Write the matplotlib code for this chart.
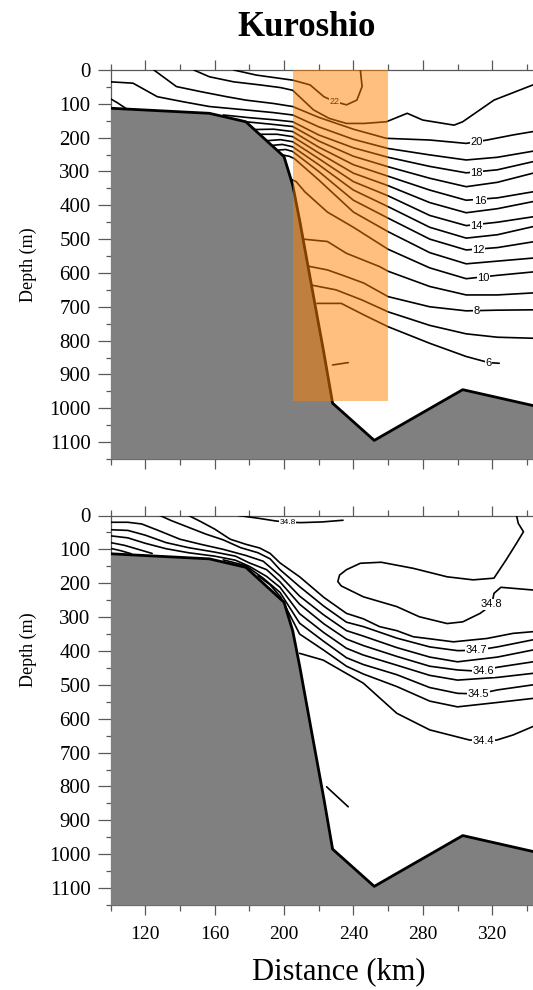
"""Kuroshio cross-slope section: temperature (top) and salinity (bottom) over the shelf break."""
import matplotlib

matplotlib.use("Agg")
import matplotlib.pyplot as plt
from matplotlib.patches import Rectangle
from matplotlib.ticker import FixedLocator, MultipleLocator

plt.rcParams["font.family"] = ["Liberation Serif", "DejaVu Serif"]

# --- seafloor (distance km, depth m) ---
bathy_km = [100, 157, 178, 200, 205, 209, 216, 223, 228, 252, 303, 343.5]
bathy_depth = [113, 128, 153, 256, 340, 444, 641, 837, 985, 1095, 945, 992]

# --- temperature isotherms, (km, depth m) ---
t22 = [(171, 0), (184, 15), (198, 25), (205, 30), (215, 44), (223, 79), (229, 93),
       (236, 103), (242, 89), (245, 49), (244, 0)]
t21 = [(148, 0), (157, 20), (171, 35), (186, 44), (198, 52), (205, 60), (217, 118),
       (226, 143), (236, 158), (246, 158), (259, 153), (271, 128), (280, 148),
       (298, 163), (303, 153), (321, 89), (343.5, 44)]
t20 = [(125, 0), (138, 49), (152, 64), (167, 79), (178, 89), (194, 99), (205, 108),
       (220, 140), (240, 175), (259, 202), (284, 207), (305, 217), (317, 207),
       (332, 192), (343.5, 182)]
t19 = [(100, 35), (113, 39), (127, 79), (142, 94), (157, 108), (178, 118), (194, 126),
       (205, 133), (220, 168), (240, 205), (260, 232), (284, 251), (305, 266),
       (323, 258), (343.5, 240)]
t18a = [(100, 85), (104, 97), (109, 114)]
t18 = [(165, 133), (180, 141), (194, 147), (205, 153), (220, 192), (240, 230),
       (260, 258), (284, 285), (305, 304), (323, 295), (343.5, 271)]
t17 = [(178, 153), (192, 160), (205, 167), (220, 210), (240, 255), (260, 286),
       (284, 320), (305, 345), (323, 332), (343.5, 305)]
t16 = [(183, 176), (194, 175), (205, 182), (220, 228), (240, 280), (260, 314),
       (284, 355), (305, 385), (323, 378), (343.5, 360)]
t15 = [(186, 190), (196, 190), (205, 197), (220, 245), (240, 305), (260, 342),
       (284, 392), (305, 422), (323, 410), (343.5, 389)]
t14 = [(190, 209), (198, 206), (205, 212), (220, 262), (240, 330), (260, 372),
       (284, 430), (305, 460), (323, 450), (343.5, 434)]
t13 = [(193, 223), (199, 220), (205, 227), (220, 280), (240, 355), (260, 404),
       (284, 465), (305, 497), (323, 487), (343.5, 463)]
t12 = [(196, 237), (201, 235), (205, 241), (220, 300), (240, 385), (260, 438),
       (284, 500), (305, 532), (323, 525), (343.5, 508)]
t11 = [(199, 251), (203, 255), (206, 262), (220, 325), (240, 420), (260, 478),
       (284, 540), (305, 573), (323, 565), (343.5, 556)]
t10 = [(204, 323), (207, 330), (212, 360), (225, 420), (240, 465), (260, 530),
       (284, 585), (305, 617), (323, 607), (343.5, 597)]
t9 = [(211, 500), (225, 507), (236, 542), (255, 581), (260, 595), (284, 640),
      (305, 665), (323, 665), (343.5, 659)]
t8 = [(214, 580), (225, 591), (236, 611), (246, 630), (260, 670), (284, 700),
      (305, 712), (323, 710), (343.5, 709)]
t7 = [(216, 636), (230, 650), (245, 680), (260, 715), (284, 755), (305, 780),
      (323, 790), (343.5, 793)]
t6 = [(219, 690), (233, 690), (246, 724), (260, 759), (284, 808), (305, 847),
      (318, 865), (324, 867)]
t5 = [(228, 872), (237, 865)]

temp_labels = ["22", "20", "18", "16", "14", "12", "10", "8", "6"]
temp_label_km = [229, 311, 311, 313, 311, 312, 315, 311, 318]
temp_label_depth = [92, 213, 305, 386, 461, 532, 616, 713, 866]

# --- salinity isohalines ---
s48_top = [(173.5, 0), (185, 8), (195, 16), (202, 20), (210, 21), (222, 19), (234, 14)]
s48 = [(334, 0), (335, 23), (338, 48), (334, 82), (328, 131), (321, 185), (309, 190),
       (294, 181), (274.5, 156), (256, 138), (244, 141), (236, 160), (232, 176),
       (231, 195), (233, 208), (245.7, 240), (265, 269), (278, 299), (294, 319),
       (303, 314), (313, 289), (319.7, 264), (321, 230), (325, 212), (332, 215),
       (343.5, 220)]
s475 = [(145, 0), (152, 18), (160, 40), (169, 70), (178, 85), (186, 96), (192, 112),
        (197.7, 140), (209, 181), (223, 242), (236, 289), (245.7, 305), (255, 328),
        (265, 340), (274.5, 358), (284, 364), (297.6, 373), (317, 363), (332, 348),
        (343.5, 343)]
s470 = [(128.5, 0), (135, 15), (145, 35), (155, 55), (165, 72), (175, 95), (185, 110),
        (192, 128), (197.7, 160), (209, 210), (223, 268), (236, 315), (245.7, 328),
        (265, 362), (284, 388), (300, 399), (311, 398), (323, 388), (343.5, 367)]
s465 = [(100, 20), (110, 20), (118, 25), (128, 45), (140, 70), (152, 85), (165, 100),
        (178, 118), (188, 135), (197.7, 178), (209, 238), (223, 294), (236, 340),
        (245.7, 356), (265, 390), (284, 418), (300, 432), (323, 418), (343.5, 397)]
s460 = [(100, 42), (110, 44), (120, 58), (132, 80), (145, 95), (160, 108), (172, 120),
        (180, 140), (190, 160), (197.7, 196), (209, 262), (223, 320), (236, 365),
        (245.7, 384), (265, 416), (284, 445), (300, 456), (313, 460), (323, 448),
        (343.5, 432)]
s455 = [(100, 60), (110, 66), (120, 82), (132, 98), (145, 110), (160, 120), (172, 132),
        (180, 150), (190, 180), (197.7, 212), (209, 290), (223, 346), (236, 392),
        (245.7, 412), (265, 442), (284, 472), (300, 486), (323, 478), (343.5, 466)]
s450a = [(100, 80), (108, 88), (116, 100), (124, 112)]
s450 = [(165, 131), (178, 148), (188, 185), (197.7, 227), (209, 318), (223, 372),
        (236, 420), (245.7, 440), (265, 470), (284, 508), (300, 525), (312, 527),
        (323, 515), (343.5, 500)]
s445a = [(100, 97), (106, 104), (112, 113)]
s445 = [(185, 178), (192, 205), (198, 240), (209, 350), (223, 398), (236, 445),
        (245.7, 468), (265, 505), (284, 548), (300, 565), (323, 552), (343.5, 540)]
s440 = [(209, 407), (222.6, 427), (245.7, 495), (265, 584), (284, 633), (307, 663),
        (322.6, 663), (332, 648), (343.5, 623)]
s435 = [(224.6, 801), (226, 808), (237, 860)]

sal_labels = ["34.8", "34.8", "34.7", "34.6", "34.5", "34.4"]
sal_label_km = [202, 319.7, 311, 314.9, 312, 314.9]
sal_label_depth = [20, 262, 398, 459, 526, 666]

box_km = (205, 260)
box_depth = 980

temp_lines = [t22, t21, t20, t19, t18a, t18, t17, t16, t15, t14, t13, t12, t11,
              t10, t9, t8, t7, t6, t5]
sal_lines = [s48_top, s48, s475, s470, s465, s460, s455, s450a, s450, s445a, s445,
             s440, s435]

W, H = 533, 990
fig = plt.figure(figsize=(W / 100, H / 100), dpi=100)
fig.patch.set_facecolor("white")

left = 110.5 / W
ax1 = fig.add_axes([left, 1 - 459 / H, 1 - left, 389 / H])
ax2 = fig.add_axes([left, 1 - 905 / H, 1 - left, 389.5 / H])


def draw_section(ax, lines, labels, lab_km, lab_depth, lab_sizes):
    for line in lines:
        ax.plot([p[0] for p in line], [p[1] for p in line], color="black",
                lw=1.2, zorder=3, solid_capstyle="round")
    ax.fill_between(bathy_km, bathy_depth, 1150, color="#808080", lw=0, zorder=3.5)
    ax.plot(bathy_km, bathy_depth, color="black", lw=2.0, zorder=3.6)
    for txt, x, y, fs in zip(labels, lab_km, lab_depth, lab_sizes):
        ax.text(x, y, txt, ha="center", va="center", fontsize=fs,
                family=["Liberation Sans", "DejaVu Sans"], zorder=4,
                bbox=dict(fc="white", ec="none", pad=0.4))

    ax.set_xlim(100, 343.5)
    ax.set_ylim(1150, 0)
    ax.xaxis.set_major_locator(FixedLocator([120, 160, 200, 240, 280, 320]))
    ax.xaxis.set_minor_locator(MultipleLocator(20))
    ax.yaxis.set_major_locator(MultipleLocator(100))
    ax.yaxis.set_minor_locator(MultipleLocator(50))
    ax.tick_params(axis="y", which="major", direction="out", length=9.4, width=0.9,
                   color="0.35", pad=5, labelsize=15)
    ax.tick_params(axis="y", which="minor", direction="out", length=3.6, width=0.9,
                   color="0.35")
    ax.tick_params(axis="x", which="major", direction="out", length=7, width=0.9,
                   color="0.35", top=True, bottom=True, labelsize=14, pad=8)
    ax.tick_params(axis="x", which="minor", direction="out", length=4.3, width=0.9,
                   color="0.35", top=True, bottom=True)
    ax.spines["right"].set_visible(False)
    for s in ("left", "top", "bottom"):
        ax.spines[s].set_color("0.35")
        ax.spines[s].set_linewidth(0.9)


draw_section(ax1, temp_lines, temp_labels, temp_label_km, temp_label_depth,
             [6.5] + [8] * 8)
ax1.tick_params(axis="x", labelbottom=False)
ax1.add_patch(Rectangle((box_km[0], 0), box_km[1] - box_km[0], box_depth,
                        facecolor="#FF8000", edgecolor="none", alpha=0.5, zorder=5))

draw_section(ax2, sal_lines, sal_labels, sal_label_km, sal_label_depth,
             [6] + [8] * 5)

fig.text(307 / W, 1 - 28 / H, "Kuroshio", ha="center", va="center",
         fontsize=25, fontweight="bold")
fig.text(339 / W, 1 - 972 / H, "Distance (km)", ha="center", va="center", fontsize=22)
fig.text(28 / W, 1 - 265 / H, "Depth (m)", ha="center", va="center",
         rotation=90, fontsize=13)
fig.text(28 / W, 1 - 650 / H, "Depth (m)", ha="center", va="center",
         rotation=90, fontsize=13)

fig.savefig("out.png", dpi=100, facecolor="white")
plt.close(fig)
